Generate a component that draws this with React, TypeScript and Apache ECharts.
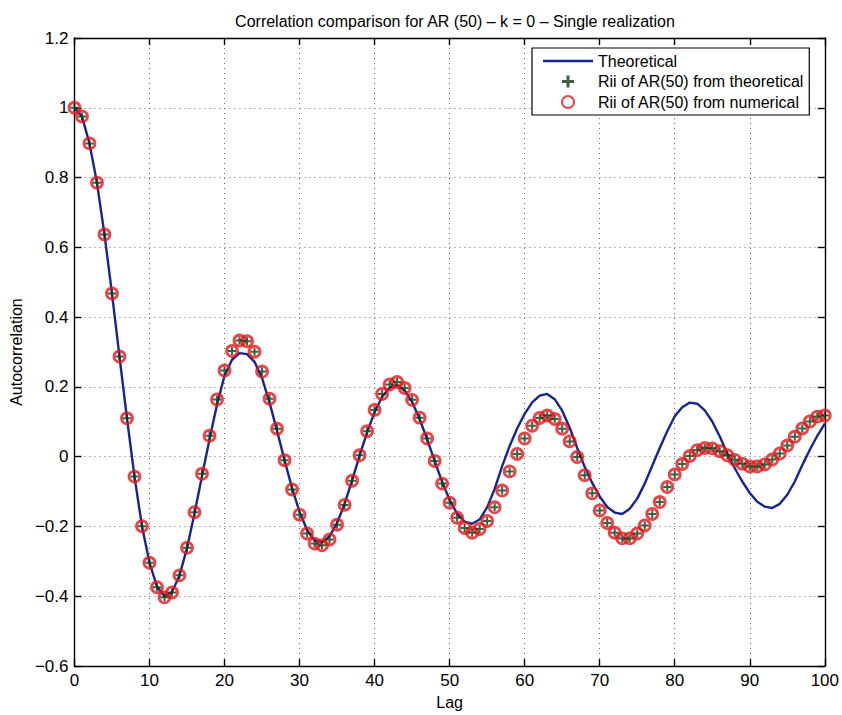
import React, { useEffect, useRef } from "react";
import * as echarts from "echarts";

// Lag index 0..100
const lags: number[] = Array.from({ length: 101 }, (_, i) => i);

// Theoretical autocorrelation curve (one value per lag)
const theoretical: number[] = [
  1.0, 0.975, 0.898, 0.785, 0.637, 0.468, 0.287, 0.11, -0.057, -0.199,
  -0.304, -0.372, -0.4, -0.388, -0.34, -0.262, -0.162, -0.055, 0.05, 0.15,
  0.232, 0.278, 0.297, 0.294, 0.272, 0.225, 0.155, 0.074, -0.01, -0.09,
  -0.158, -0.21, -0.24, -0.245, -0.228, -0.19, -0.135, -0.068, 0.003, 0.07,
  0.128, 0.172, 0.198, 0.205, 0.19, 0.157, 0.108, 0.05, -0.012, -0.072,
  -0.124, -0.163, -0.186, -0.192, -0.18, -0.145, -0.092, -0.027, 0.031, 0.081,
  0.123, 0.156, 0.175, 0.18, 0.165, 0.132, 0.083, 0.025, -0.029, -0.075,
  -0.114, -0.144, -0.16, -0.164, -0.149, -0.12, -0.077, -0.026, 0.025, 0.073,
  0.116, 0.142, 0.155, 0.152, 0.133, 0.101, 0.058, 0.01, -0.033, -0.071,
  -0.104, -0.129, -0.143, -0.147, -0.135, -0.109, -0.071, -0.024, 0.02, 0.06,
  0.095,
];

// Rii of AR(50), estimated values (theoretical and numerical coincide)
const riiValues: number[] = [
  1.0, 0.975, 0.898, 0.785, 0.637, 0.468, 0.287, 0.11, -0.057, -0.199,
  -0.304, -0.374, -0.403, -0.389, -0.34, -0.261, -0.159, -0.049, 0.06, 0.164,
  0.247, 0.303, 0.333, 0.331, 0.301, 0.244, 0.166, 0.08, -0.01, -0.094,
  -0.166, -0.22, -0.249, -0.254, -0.237, -0.195, -0.138, -0.069, 0.004, 0.073,
  0.134, 0.18, 0.207, 0.214, 0.197, 0.163, 0.112, 0.052, -0.012, -0.077,
  -0.132, -0.175, -0.204, -0.218, -0.207, -0.184, -0.145, -0.097, -0.042, 0.008,
  0.052, 0.089, 0.111, 0.118, 0.108, 0.08, 0.044, -0.001, -0.053, -0.105,
  -0.154, -0.19, -0.218, -0.234, -0.234, -0.22, -0.197, -0.164, -0.13, -0.087,
  -0.051, -0.021, 0.002, 0.019, 0.025, 0.024, 0.016, 0.004, -0.009, -0.02,
  -0.028, -0.028, -0.022, -0.008, 0.009, 0.032, 0.057, 0.081, 0.101, 0.115,
  0.118,
];

const seriesNames = [
  "Theoretical",
  "Rii of AR(50) from theoretical",
  "Rii of AR(50) from numerical",
];

const titleText = "Correlation comparison for AR (50) \u2013 k = 0 \u2013 Single realization";
const xName = "Lag";
const yName = "Autocorrelation";

const FONT = "'Liberation Sans', Arial, Helvetica, sans-serif";
const PLUS = "path://M3,0h2v3h3v2h-3v3h-2v-3h-3v-2h3z";
const LINE_ICON = "path://M0,0H50V2.4H0Z";

export default function App() {
  const ref = useRef<HTMLDivElement>(null);

  useEffect(() => {
    if (!ref.current) return;
    const chart = echarts.init(ref.current, undefined, { renderer: "svg" });

    const lineData = lags.map((l, i) => [l, theoretical[i]]);
    const riiData = lags.map((l, i) => [l, riiValues[i]]);

    const axisLine = { show: true, onZero: false, lineStyle: { color: "#000", width: 1.4 } };
    const axisTick = { show: true, inside: true, length: 7, lineStyle: { color: "#000", width: 1.4 } };
    const grid = { show: true, lineStyle: { color: "#6a6a6a", type: [1, 4] as any, width: 1 } };
    const fmt = (v: number) => {
      const s = String(Math.round(v * 10) / 10);
      return s.startsWith("-") ? "\u2212" + s.slice(1) : s;
    };

    chart.setOption({
      animation: false,
      backgroundColor: "#fff",
      textStyle: { fontFamily: FONT },
      title: {
        text: titleText,
        left: 450,
        top: 8,
        textAlign: "center",
        textStyle: { fontFamily: FONT, fontSize: 16, fontWeight: "normal", color: "#000" },
      },
      grid: { left: 74, right: 16, top: 38, bottom: 43, containLabel: false },
      legend: {
        orient: "vertical",
        left: 532,
        top: 48,
        padding: [5, 5, 5, 11],
        itemGap: 4.5,
        itemWidth: 50,
        itemHeight: 12,
        backgroundColor: "#fff",
        borderColor: "#000",
        borderWidth: 1.2,
        borderRadius: 0,
        textStyle: { fontFamily: FONT, fontSize: 16, color: "#000" },
        data: [
          { name: seriesNames[0], icon: LINE_ICON },
          { name: seriesNames[1] },
          { name: seriesNames[2] },
        ],
      },
      xAxis: [
        {
          type: "value",
          min: 0,
          max: 100,
          interval: 10,
          position: "bottom",
          name: xName,
          nameLocation: "middle",
          nameGap: 24,
          nameTextStyle: { fontFamily: FONT, fontSize: 16, color: "#000" },
          axisLine,
          axisTick,
          axisLabel: { fontFamily: FONT, fontSize: 17, color: "#000", margin: 6 },
          splitLine: grid,
        },
        {
          type: "value",
          min: 0,
          max: 100,
          interval: 10,
          position: "top",
          axisLine,
          axisTick,
          axisLabel: { show: false },
          splitLine: { show: false },
        },
      ],
      yAxis: [
        {
          type: "value",
          min: -0.6,
          max: 1.2,
          interval: 0.2,
          position: "left",
          name: yName,
          nameLocation: "middle",
          nameGap: 44,
          nameTextStyle: { fontFamily: FONT, fontSize: 16, color: "#000" },
          axisLine,
          axisTick,
          axisLabel: { fontFamily: FONT, fontSize: 17, color: "#000", margin: 6, formatter: fmt },
          splitLine: grid,
        },
        {
          type: "value",
          min: -0.6,
          max: 1.2,
          interval: 0.2,
          position: "right",
          axisLine,
          axisTick,
          axisLabel: { show: false },
          splitLine: { show: false },
        },
      ],
      series: [
        {
          name: seriesNames[0],
          type: "line",
          data: lineData,
          symbol: "none",
          smooth: false,
          lineStyle: { color: "#17268f", width: 2.4 },
          itemStyle: { color: "#17268f" },
          z: 2,
        },
        {
          name: seriesNames[1],
          type: "scatter",
          data: riiData,
          symbol: PLUS,
          symbolSize: 8,
          itemStyle: { color: "#0d3a10" },
          z: 4,
        },
        {
          name: seriesNames[2],
          type: "scatter",
          data: riiData,
          symbol: "circle",
          symbolSize: 11,
          itemStyle: { color: "rgba(0,0,0,0)", borderColor: "#e3161c", borderWidth: 2.8 },
          z: 3,
        },
      ],
    });

    return () => chart.dispose();
  }, []);

  return (
    <div
      ref={ref}
      style={{ position: "fixed", left: 0, top: 0, width: 842, height: 715, background: "#fff" }}
    />
  );
}
